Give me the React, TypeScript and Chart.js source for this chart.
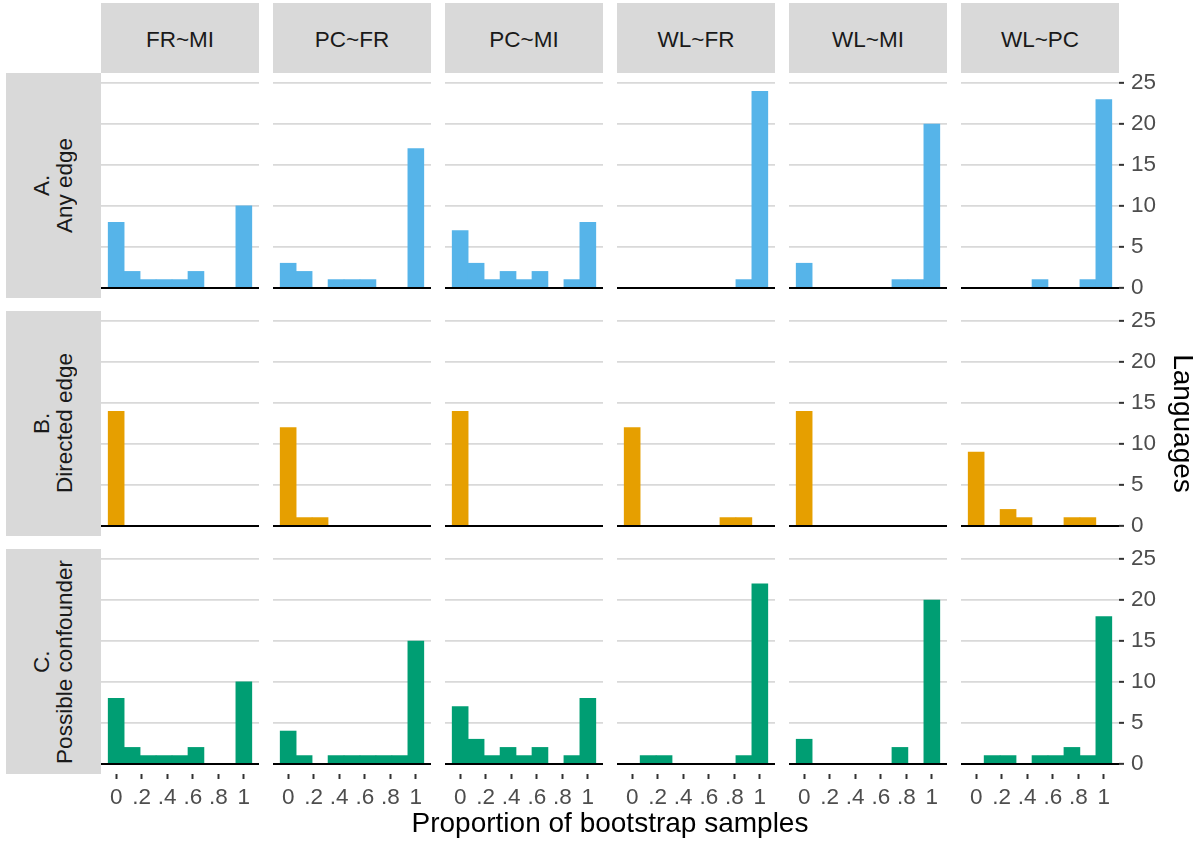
import React, { useEffect, useRef } from 'react';
import { Chart, registerables } from 'chart.js';

Chart.register(...registerables);
Chart.defaults.font.family = "'Liberation Sans', Arial, Helvetica, sans-serif";

// ---------- data ----------
const COLUMNS = ['FR~MI', 'PC~FR', 'PC~MI', 'WL~FR', 'WL~MI', 'WL~PC'];
const ROW_LABELS = [
  ['A.', 'Any edge'],
  ['B.', 'Directed edge'],
  ['C.', 'Possible confounder'],
];
const ROW_COLORS = ['#56B4E9', '#E69F00', '#009E73'];
// histogram bin centres (9 bins over 0..1)
const BIN_CENTERS = [0, 0.125, 0.25, 0.375, 0.5, 0.625, 0.75, 0.875, 1];

// counts per bin, one array per column (FR~MI, PC~FR, PC~MI, WL~FR, WL~MI, WL~PC)
const ANY_EDGE = [
  [8, 2, 1, 1, 1, 2, 0, 0, 10],
  [3, 2, 0, 1, 1, 1, 0, 0, 17],
  [7, 3, 1, 2, 1, 2, 0, 1, 8],
  [0, 0, 0, 0, 0, 0, 0, 1, 24],
  [3, 0, 0, 0, 0, 0, 1, 1, 20],
  [0, 0, 0, 0, 1, 0, 0, 1, 23],
];
const DIRECTED_EDGE = [
  [14, 0, 0, 0, 0, 0, 0, 0, 0],
  [12, 1, 1, 0, 0, 0, 0, 0, 0],
  [14, 0, 0, 0, 0, 0, 0, 0, 0],
  [12, 0, 0, 0, 0, 0, 1, 1, 0],
  [14, 0, 0, 0, 0, 0, 0, 0, 0],
  [9, 0, 2, 1, 0, 0, 1, 1, 0],
];
const POSSIBLE_CONFOUNDER = [
  [8, 2, 1, 1, 1, 2, 0, 0, 10],
  [4, 1, 0, 1, 1, 1, 1, 1, 15],
  [7, 3, 1, 2, 1, 2, 0, 1, 8],
  [0, 1, 1, 0, 0, 0, 0, 1, 22],
  [3, 0, 0, 0, 0, 0, 2, 0, 20],
  [0, 1, 1, 0, 1, 1, 2, 1, 18],
];
const ROW_DATA = [ANY_EDGE, DIRECTED_EDGE, POSSIBLE_CONFOUNDER];

const Y_TICKS = [0, 5, 10, 15, 20, 25];
const X_TICKS = [0, 0.2, 0.4, 0.6, 0.8, 1];
const X_TICK_LABELS = ['0', '.2', '.4', '.6', '.8', '1'];
const X_TITLE = 'Proportion of bootstrap samples';
const Y_TITLE = 'Languages';

// ---------- layout ----------
const X_MIN = -0.11875;
const X_MAX = 1.11875;
const Y_MIN = -1.25;
const Y_MAX = 26.25;
const PANEL_LEFT0 = 101;
const PANEL_STEP_X = 172;
const PANEL_W = 158;
const PANEL_TOP0 = 73;
const PANEL_STEP_Y = 238;
const PANEL_H = 225;
const X_AXIS_H = 40;
const Y_AXIS_W = 80;
const STRIP_BG = '#D9D9D9';
const STRIP_TEXT = '#1A1A1A';
const TICK_TEXT = '#4D4D4D';
const GRID_COLOR = '#D9D9D9';
const FONT = "'Liberation Sans', Arial, Helvetica, sans-serif";

const zeroLinePlugin = {
  id: 'zeroLine',
  afterDatasetsDraw(chart: any) {
    const { ctx, chartArea, scales } = chart;
    const y = Math.round(scales.y.getPixelForValue(0));
    ctx.save();
    ctx.strokeStyle = '#000000';
    ctx.lineWidth = 2;
    ctx.beginPath();
    ctx.moveTo(chartArea.left, y);
    ctx.lineTo(chartArea.right, y);
    ctx.stroke();
    ctx.restore();
  },
};

function Panel({ row, col }: { row: number; col: number }) {
  const ref = useRef<HTMLCanvasElement>(null);
  const isBottom = row === ROW_DATA.length - 1;
  const isRight = col === COLUMNS.length - 1;
  const width = PANEL_W + (isRight ? Y_AXIS_W : 0);
  const height = PANEL_H + (isBottom ? X_AXIS_H : 0);

  useEffect(() => {
    const values = ROW_DATA[row][col];
    const chart = new Chart(ref.current as HTMLCanvasElement, {
      type: 'bar',
      data: {
        datasets: [
          {
            data: BIN_CENTERS.map((x, i) => ({ x, y: values[i] })),
            backgroundColor: ROW_COLORS[row],
            borderWidth: 0,
            categoryPercentage: 1,
            barPercentage: 1,
          } as any,
        ],
      },
      options: {
        responsive: false,
        animation: false,
        events: [],
        layout: { padding: 0, autoPadding: false } as any,
        plugins: {
          legend: { display: false },
          tooltip: { enabled: false },
        },
        scales: {
          x: {
            type: 'linear',
            min: X_MIN,
            max: X_MAX,
            offset: false,
            display: isBottom,
            grid: {
              offset: false,
              drawOnChartArea: false,
              drawTicks: true,
              tickLength: 5,
              tickColor: '#333333',
              tickWidth: 2,
            } as any,
            border: { display: false },
            ticks: {
              autoSkip: false,
              maxRotation: 0,
              minRotation: 0,
              padding: 5,
              color: TICK_TEXT,
              font: { size: 22.5, family: FONT },
              callback: (v: any) => {
                const i = X_TICKS.findIndex((t) => Math.abs(t - Number(v)) < 1e-9);
                return i >= 0 ? X_TICK_LABELS[i] : '';
              },
            },
            afterBuildTicks: (s: any) => {
              s.ticks = X_TICKS.map((v) => ({ value: v }));
            },
            afterFit: (s: any) => {
              s.height = isBottom ? X_AXIS_H : 0;
              s.paddingLeft = 0;
              s.paddingRight = 0;
            },
          },
          y: {
            type: 'linear',
            position: 'right',
            min: Y_MIN,
            max: Y_MAX,
            display: true,
            grid: {
              color: (c: any) => (c.tick && c.tick.value === 0 ? 'rgba(0,0,0,0)' : GRID_COLOR),
              lineWidth: 1.7,
              drawTicks: isRight,
              tickLength: 5,
              tickColor: '#333333',
              tickWidth: 2,
            } as any,
            border: { display: false },
            ticks: {
              display: isRight,
              padding: 7,
              color: TICK_TEXT,
              font: { size: 22.5, family: FONT },
            },
            title: {
              display: isRight && row === 1,
              text: Y_TITLE,
              color: '#000000',
              font: { size: 28, family: FONT },
              padding: { top: 0, bottom: 0 },
            },
            afterBuildTicks: (s: any) => {
              s.ticks = Y_TICKS.map((v) => ({ value: v }));
            },
            afterFit: (s: any) => {
              s.width = isRight ? Y_AXIS_W : 0;
              s.paddingTop = 0;
              s.paddingBottom = 0;
            },
          },
        },
      } as any,
      plugins: [zeroLinePlugin],
    });
    return () => chart.destroy();
  }, [row, col]);

  return (
    <canvas
      ref={ref}
      width={width}
      height={height}
      style={{
        position: 'absolute',
        left: PANEL_LEFT0 + col * PANEL_STEP_X,
        top: PANEL_TOP0 + row * PANEL_STEP_Y,
        width,
        height,
      }}
    />
  );
}

export default function App() {
  useEffect(() => {
    document.body.style.margin = '0';
    document.body.style.overflow = 'hidden';
  }, []);

  return (
    <div
      style={{
        position: 'absolute',
        left: 0,
        top: 0,
        width: 1199,
        height: 843,
        background: '#FFFFFF',
        overflow: 'hidden',
        fontFamily: FONT,
      }}
    >
      {COLUMNS.map((name, c) => (
        <div
          key={'cs' + c}
          style={{
            position: 'absolute',
            left: PANEL_LEFT0 + c * PANEL_STEP_X,
            top: 3,
            width: PANEL_W,
            height: 70,
            background: STRIP_BG,
            color: STRIP_TEXT,
            fontSize: 22.5,
            display: 'flex',
            alignItems: 'center',
            justifyContent: 'center',
            paddingTop: 3,
            boxSizing: 'border-box',
          }}
        >
          {name}
        </div>
      ))}
      {ROW_LABELS.map((lines, r) => (
        <div
          key={'rs' + r}
          style={{
            position: 'absolute',
            left: 6,
            top: PANEL_TOP0 + r * PANEL_STEP_Y,
            width: PANEL_LEFT0 - 6,
            height: PANEL_H,
            background: STRIP_BG,
            color: STRIP_TEXT,
            display: 'flex',
            alignItems: 'center',
            justifyContent: 'center',
          }}
        >
          <div
            style={{
              writingMode: 'vertical-rl',
              transform: 'rotate(180deg)',
              fontSize: 22.5,
              lineHeight: '22.5px',
              textAlign: 'center',
              whiteSpace: 'nowrap',
            }}
          >
            {lines[0]}
            <br />
            {lines[1]}
          </div>
        </div>
      ))}
      {ROW_DATA.map((rowData, r) =>
        rowData.map((_, c) => <Panel key={r + '-' + c} row={r} col={c} />)
      )}
      <div
        style={{
          position: 'absolute',
          left: PANEL_LEFT0,
          top: 809,
          width: 5 * PANEL_STEP_X + PANEL_W,
          height: 28,
          lineHeight: '28px',
          fontSize: 28,
          color: '#000000',
          textAlign: 'center',
          whiteSpace: 'nowrap',
        }}
      >
        {X_TITLE}
      </div>
    </div>
  );
}
